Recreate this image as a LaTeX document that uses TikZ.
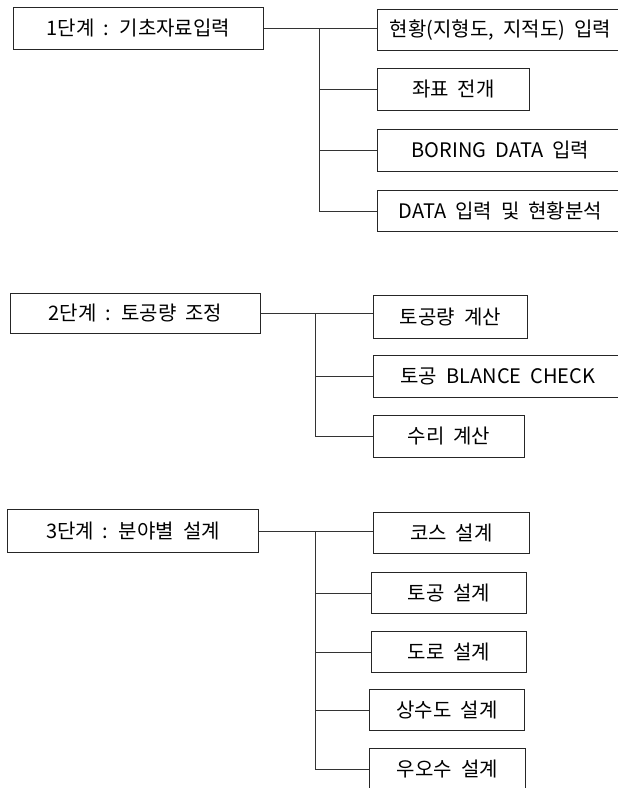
\documentclass[tikz,border=0pt]{standalone}
\usepackage{fontspec}
\setmainfont[WordSpace=2.0]{Noto Sans CJK KR}
\begin{document}
\begin{tikzpicture}[x=1pt,y=-1pt,
  box/.style={draw=black!85, line width=0.9pt, rectangle, anchor=north west, inner sep=0pt,
    minimum height=42pt, font=\fontsize{20}{22}\selectfont},
  conn/.style={draw=black!80, line width=0.8pt}]
\useasboundingbox (0,0) rectangle (618,788);
\clip (0,0) rectangle (618,788);
% ---------- stage 1
\node[box, minimum width=250pt] (s1) at (13,7) {1단계 : 기초자료입력};
\node[box, minimum width=246pt, minimum height=41pt] (a1) at (377,9) {현황(지형도, 지적도) 입력};
\node[box, minimum width=152pt] (a2) at (377,68) {좌표 전개};
\node[box, minimum width=246pt] (a3) at (377,129) {BORING DATA 입력};
\node[box, minimum width=246pt, minimum height=41pt] (a4) at (377,190) {DATA 입력 및 현황분석};
\coordinate (bus1) at (319,0);
\draw[conn] (s1.east) -- (s1.east -| a1.west);
\draw[conn] (bus1 |- s1.east) -- (bus1 |- a4.west) -- (a4.west);
\draw[conn] (bus1 |- a2.west) -- (a2.west);
\draw[conn] (bus1 |- a3.west) -- (a3.west);
% ---------- stage 2
\node[box, minimum width=250pt, minimum height=40pt] (s2) at (10,293) {2단계 : 토공량 조정};
\node[box, minimum width=154pt, minimum height=43pt] (b1) at (373,295) {토공량 계산};
\node[box, minimum width=249pt] (b2) at (373,355) {토공 BLANCE CHECK};
\node[box, minimum width=151pt] (b3) at (373,415) {수리 계산};
\coordinate (bus2) at (315,0);
\draw[conn] (s2.east) -- (s2.east -| b1.west);
\draw[conn] (bus2 |- s2.east) -- (bus2 |- b3.west) -- (b3.west);
\draw[conn] (bus2 |- b2.west) -- (b2.west);
% ---------- stage 3
\node[box, minimum width=251pt, minimum height=43pt] (s3) at (7,509) {3단계 : 분야별 설계};
\node[box, minimum width=156pt, minimum height=41pt] (c1) at (373,512) {코스 설계};
\node[box, minimum width=155pt, minimum height=41pt] (c2) at (371,572) {토공 설계};
\node[box, minimum width=155pt, minimum height=41pt] (c3) at (371,631) {도로 설계};
\node[box, minimum width=155pt, minimum height=41pt] (c4) at (369,689) {상수도 설계};
\node[box, minimum width=156pt, minimum height=41pt] (c5) at (369,748) {우오수 설계};
\coordinate (bus3) at (315,0);
\draw[conn] (s3.east) -- (s3.east -| c1.west);
\draw[conn] (bus3 |- s3.east) -- (bus3 |- c5.west) -- (c5.west);
\draw[conn] (bus3 |- c2.west) -- (c2.west);
\draw[conn] (bus3 |- c3.west) -- (c3.west);
\draw[conn] (bus3 |- c4.west) -- (c4.west);
\end{tikzpicture}
\end{document}
